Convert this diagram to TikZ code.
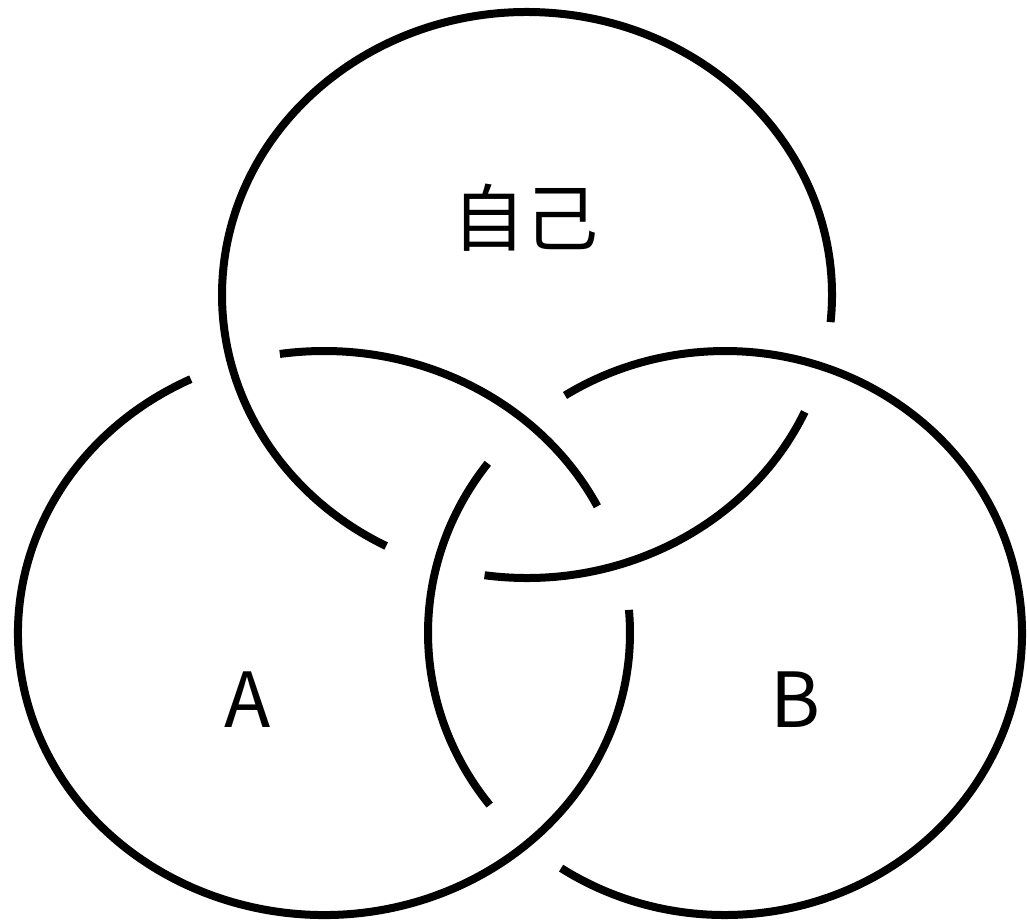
\documentclass[tikz,border=0pt]{standalone}
\usepackage{fontspec}
\newfontfamily\cjk{Noto Sans CJK SC}
\begin{document}
\begin{tikzpicture}[x=1pt,y=1pt,
  ring/.style={line width=8pt, line cap=butt},
  cjklbl/.style={font=\cjk\fontsize{73}{84}\selectfont, inner sep=0pt},
  latlbl/.style={font=\cjk\fontsize{76}{86}\selectfont, inner sep=0pt}]
\useasboundingbox (0,0) rectangle (1027,922);
\coordinate (T) at (527,627);
\coordinate (A) at (324,289);
\coordinate (B) at (725,289);
% top ring
\draw[ring] (T) ++(262:305 and 283) arc[start angle=262,end angle=335.6,x radius=305,y radius=283];
\draw[ring] (T) ++(-5.5:305 and 283) arc[start angle=-5.5,end angle=242.5,x radius=305,y radius=283];
% ring A
\draw[ring] (A) ++(26.7:306 and 282) arc[start angle=26.7,end angle=98.3,x radius=306,y radius=282];
\draw[ring] (A) ++(115.8:306 and 282) arc[start angle=115.8,end angle=364.7,x radius=306,y radius=282];
% ring B
\draw[ring] (B) ++(143:297 and 282) arc[start angle=143,end angle=217.6,x radius=297,y radius=282];
\draw[ring] (B) ++(236.5:297 and 282) arc[start angle=236.5,end angle=482.6,x radius=297,y radius=282];
% labels
\node[cjklbl] (self) at (525,704) {自己};
\node[latlbl] (la) at (248,222) {A};
\node[latlbl] (lb) at (795,222) {B};
\end{tikzpicture}
\end{document}
